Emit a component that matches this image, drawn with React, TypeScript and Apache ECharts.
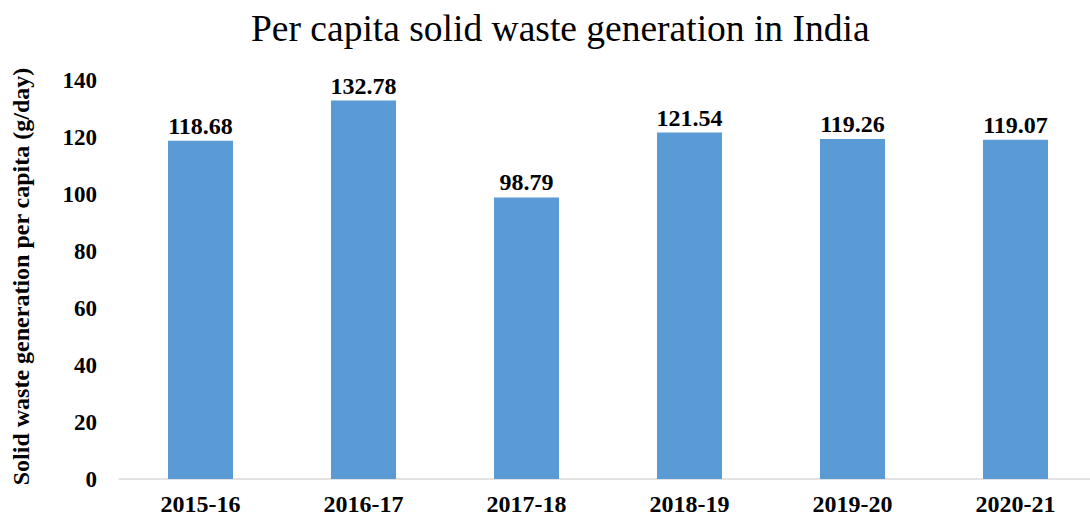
import React, { useEffect, useRef } from "react";
import * as echarts from "echarts";

const categories = ["2015-16", "2016-17", "2017-18", "2018-19", "2019-20", "2020-21"];
const values = [118.68, 132.78, 98.79, 121.54, 119.26, 119.07];
const yTicks = { min: 0, max: 140, interval: 20 };

const FONT = "'Liberation Serif', 'Times New Roman', serif";

export default function App() {
  const ref = useRef<HTMLDivElement>(null);
  useEffect(() => {
    document.body.style.margin = "0";
    const chart = echarts.init(ref.current!, null, { renderer: "svg" });
    chart.setOption({
      animation: false,
      backgroundColor: "#ffffff",
      title: {
        text: "Per capita solid waste generation in India",
        left: 246,
        top: 4,
        textStyle: { fontFamily: FONT, fontSize: 37.5, fontWeight: "normal", color: "#000" },
      },
      grid: { left: 119, top: 80, width: 978, height: 399, containLabel: false },
      xAxis: {
        type: "category",
        data: categories,
        axisLine: { lineStyle: { color: "#D9D9D9", width: 1.5 } },
        axisTick: { show: false },
        axisLabel: { fontFamily: FONT, fontSize: 24, fontWeight: "bold", color: "#000", margin: 13 },
      },
      yAxis: {
        type: "value",
        min: yTicks.min,
        max: yTicks.max,
        interval: yTicks.interval,
        name: "Solid waste generation per capita (g/day)",
        nameLocation: "middle",
        nameGap: 86,
        nameTextStyle: { fontFamily: FONT, fontSize: 24, fontWeight: "bold", color: "#000", padding: [0, 0, 0, 6] },
        axisLine: { show: false },
        axisTick: { show: false },
        splitLine: { show: false },
        axisLabel: { fontFamily: FONT, fontSize: 23, fontWeight: "bold", color: "#000", margin: 22 },
      },
      series: [
        {
          type: "bar",
          data: values,
          barWidth: 65,
          itemStyle: { color: "#5B9BD5" },
          label: {
            show: true,
            position: "top",
            distance: 3,
            fontFamily: FONT,
            fontSize: 24,
            fontWeight: "bold",
            color: "#000",
            formatter: (p: any) => p.value.toFixed(2),
          },
        },
      ],
    });
    return () => chart.dispose();
  }, []);
  return (
    <div style={{ width: 1090, height: 519, overflow: "hidden", position: "relative" }}>
      <div ref={ref} style={{ width: 1110, height: 519 }} />
    </div>
  );
}
